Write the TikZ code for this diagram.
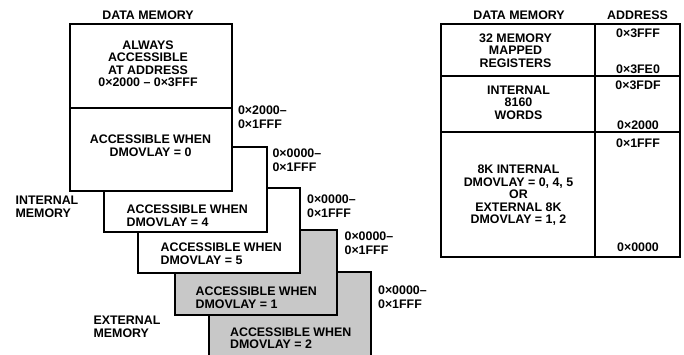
\documentclass[tikz,border=0pt]{standalone}
\usepackage{fontspec}
\setmainfont{Liberation Sans}
\usetikzlibrary{positioning}
\definecolor{extmem}{HTML}{C8C8C8}

\begin{document}
\begin{tikzpicture}[x=1pt,y=-1pt,line width=1.2pt,
  every node/.style={font=\bfseries\fontsize{12.4}{12.5}\selectfont,inner sep=0pt,align=center},
  addr/.style={anchor=west,align=left,font=\bfseries\fontsize{12.4}{14}\selectfont},
  when/.style={anchor=west,align=left}]
\useasboundingbox (0,0) rectangle (684,355);
% overlay pages, drawn back to front
\filldraw[fill=extmem] (209,272) rectangle (371,358);
\filldraw[fill=extmem] (175,230) rectangle (337,315);
\filldraw[fill=white] (138,188) rectangle (300,273);
\filldraw[fill=white] (104,147) rectangle (267,232);
\filldraw[fill=white] (70,24) rectangle (232,191);
\draw (70,108) -- (232,108);
\node (dmtitle) at (148,15.5) {DATA MEMORY};
\node (always) at (148,63.5) {ALWAYS\\ACCESSIBLE\\AT ADDRESS\\0×2000 – 0×3FFF};
\node (dmov0) at (150.5,145.5) {ACCESSIBLE WHEN\\DMOVLAY = 0};
\node[when] (dmov4) at (126,215.8) {ACCESSIBLE WHEN\\DMOVLAY = 4};
\node[when] (dmov5) at (160,253.8) {ACCESSIBLE WHEN\\DMOVLAY = 5};
\node[when] (dmov1) at (195,297.5) {ACCESSIBLE WHEN\\DMOVLAY = 1};
\node[when] (dmov2) at (229.5,338.3) {ACCESSIBLE WHEN\\DMOVLAY = 2};
\node[addr] (a0) at (237.5,117) {0×2000–\\0×1FFF};
\node[addr] (a4) at (272,160.5) {0×0000–\\0×1FFF};
\node[addr] (a5) at (306.5,206.7) {0×0000–\\0×1FFF};
\node[addr] (a1) at (344,243.3) {0×0000–\\0×1FFF};
\node[addr] (a2) at (377.5,296.8) {0×0000–\\0×1FFF};
\node[when] (intmem) at (15,207) {INTERNAL\\MEMORY};
\node[when] (extlbl) at (93,327) {EXTERNAL\\MEMORY};
% memory map table
\draw (441,24) rectangle (680,257);
\draw (595,24) -- (595,257);
\draw (441,76) -- (680,76);
\draw (441,132) -- (680,132);
\node (maptitle) at (519,15.5) {DATA MEMORY};
\node (addrtitle) at (637.5,15.5) {ADDRESS};
\node (mmr) at (515.5,50.5) {32 MEMORY\\MAPPED\\REGISTERS};
\node (intw) at (518.5,102.5) {INTERNAL\\8160\\WORDS};
\node (ovl) at (518.5,195.5) {8K INTERNAL\\DMOVLAY = 0, 4, 5\\OR\\EXTERNAL 8K\\DMOVLAY = 1, 2};
\node (r3fff) at (638,33) {0×3FFF};
\node (r3fe0) at (638,69) {0×3FE0};
\node (r3fdf) at (638,85.5) {0×3FDF};
\node (r2000) at (638,125) {0×2000};
\node (r1fff) at (638,143.3) {0×1FFF};
\node (r0000) at (638,247.5) {0×0000};
\end{tikzpicture}
\end{document}
